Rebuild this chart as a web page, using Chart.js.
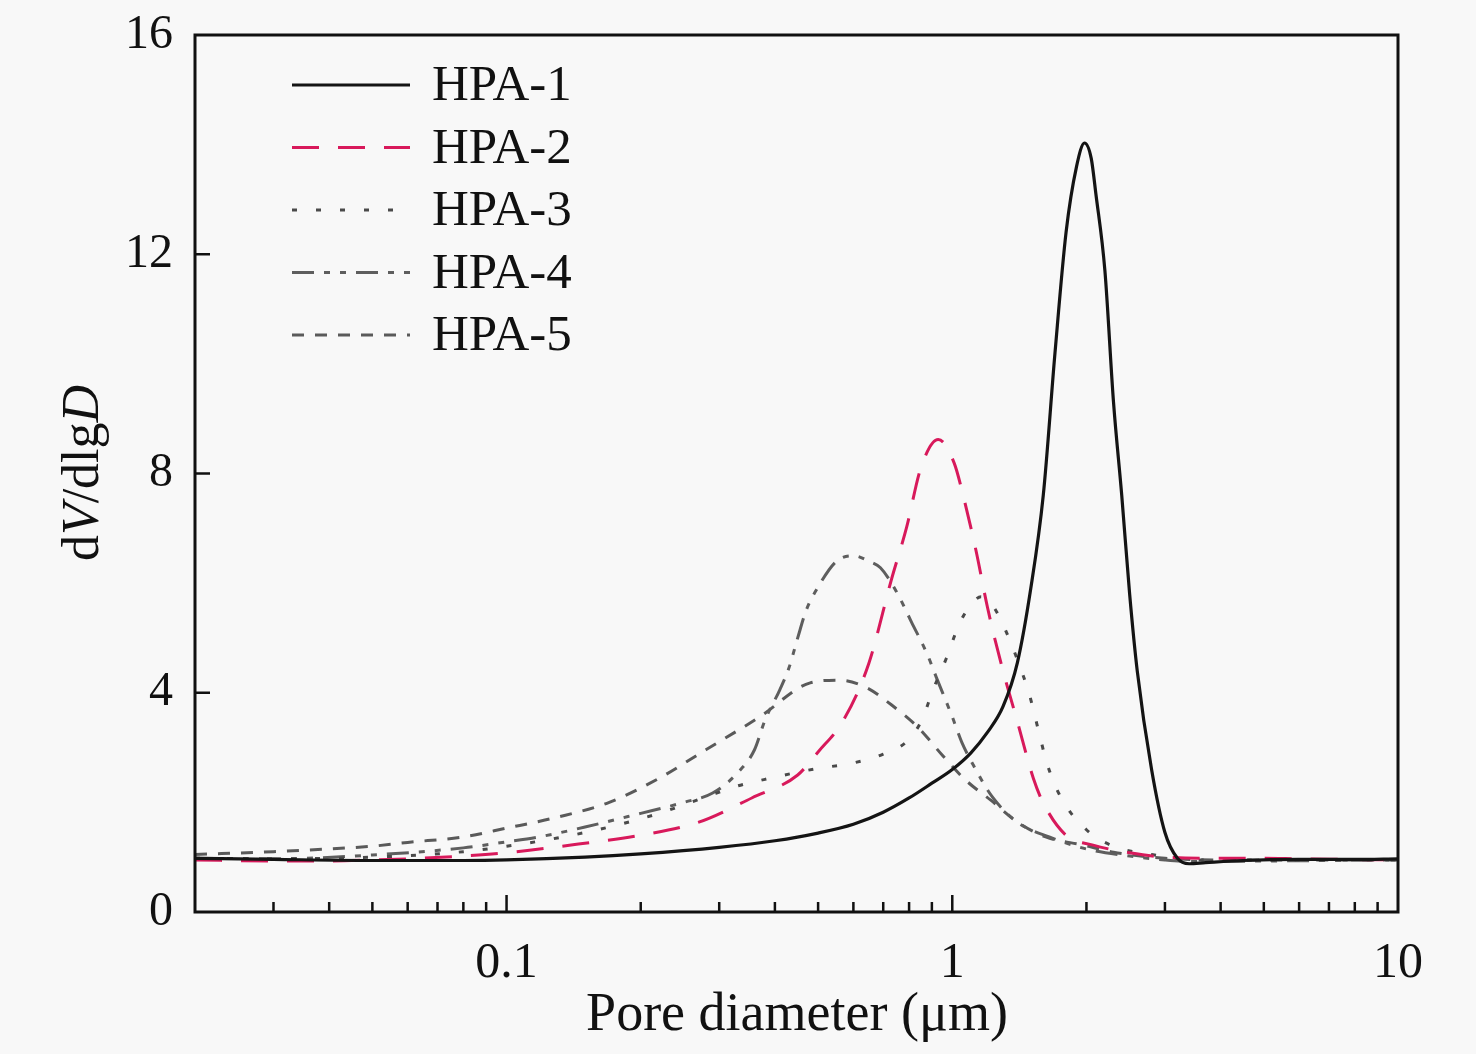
<!DOCTYPE html>
<html>
<head>
<meta charset="utf-8">
<script src="https://cdn.jsdelivr.net/npm/chart.js@4.4.1/dist/chart.umd.min.js"></script>
<style>
  html, body { margin: 0; padding: 0; background: #f8f8f8; }
  #wrap { width: 1476px; height: 1054px; }
</style>
</head>
<body>
<div id="wrap"><canvas id="mycanvas" width="1476" height="1054"></canvas></div>
<script>
// pore diameter (um) and dV/dlgD, one pair of arrays per sample
var hpa1D = [0.02, 0.03, 0.05, 0.08, 0.1, 0.15, 0.2, 0.3, 0.4, 0.5, 0.6, 0.7, 0.8, 0.9, 1.0, 1.1, 1.2, 1.3, 1.4, 1.5, 1.6, 1.7, 1.8, 1.9, 1.98, 2.05, 2.1, 2.2, 2.3, 2.4, 2.5, 2.6, 2.8, 3.0, 3.2, 3.4, 3.7, 4.5, 6, 8, 10];
var hpa1V = [0.98, 0.96, 0.94, 0.94, 0.95, 1.0, 1.06, 1.18, 1.3, 1.44, 1.6, 1.82, 2.08, 2.35, 2.6, 2.9, 3.28, 3.75, 4.55, 5.9, 7.6, 10.2, 12.4, 13.6, 14.03, 13.75, 13.1, 11.7, 9.3, 7.6, 5.8, 4.4, 2.6, 1.45, 0.98, 0.88, 0.9, 0.94, 0.96, 0.96, 0.97];

var hpa2D = [0.02, 0.03, 0.04, 0.05, 0.06, 0.08, 0.1, 0.145, 0.2, 0.27, 0.355, 0.45, 0.5, 0.57, 0.65, 0.73, 0.79, 0.85, 0.93, 1.01, 1.06, 1.13, 1.2, 1.29, 1.4, 1.52, 1.6, 1.8, 2.07, 2.5, 3.0, 4, 5, 6, 8, 10];
var hpa2V = [0.95, 0.93, 0.93, 0.95, 0.97, 1.02, 1.08, 1.24, 1.40, 1.64, 2.08, 2.5, 2.92, 3.5, 4.54, 6.06, 7.02, 8.1, 8.62, 8.19, 7.57, 6.6, 5.55, 4.5, 3.47, 2.44, 1.99, 1.4, 1.22, 1.08, 1.0, 0.98, 0.98, 0.97, 0.96, 0.95];

var hpa3D = [0.02, 0.03, 0.05, 0.08, 0.1, 0.13, 0.17, 0.22, 0.28, 0.33, 0.38, 0.45, 0.5, 0.6, 0.7, 0.8, 0.86, 0.9, 0.97, 1.035, 1.1, 1.16, 1.23, 1.31, 1.4, 1.49, 1.56, 1.63, 1.75, 2.0, 2.3, 2.8, 3.5, 5, 7, 10];
var hpa3V = [0.98, 0.97, 1.0, 1.1, 1.2, 1.35, 1.55, 1.8, 2.1, 2.3, 2.42, 2.55, 2.62, 2.72, 2.88, 3.15, 3.55, 4.0, 4.63, 5.24, 5.6, 5.75, 5.6, 5.18, 4.6, 3.96, 3.32, 2.72, 2.1, 1.5, 1.2, 1.05, 0.95, 0.95, 0.95, 0.95];

var hpa4D = [0.02, 0.03, 0.05, 0.08, 0.1, 0.12, 0.15, 0.2, 0.25, 0.29, 0.33, 0.36, 0.38, 0.41, 0.43, 0.45, 0.47, 0.5, 0.55, 0.6, 0.65, 0.69, 0.75, 0.81, 0.88, 0.92, 1.0, 1.05, 1.12, 1.23, 1.41, 1.65, 2.0, 2.5, 3.0, 3.5, 5, 7, 10];
var hpa4V = [0.98, 0.97, 1.04, 1.17, 1.28, 1.38, 1.55, 1.8, 2.0, 2.17, 2.54, 2.96, 3.5, 4.05, 4.45, 5.0, 5.5, 5.93, 6.4, 6.5, 6.4, 6.28, 5.84, 5.29, 4.69, 4.29, 3.56, 3.1, 2.65, 2.1, 1.62, 1.37, 1.15, 1.02, 0.95, 0.92, 0.93, 0.94, 0.95];

var hpa5D = [0.02, 0.03, 0.04, 0.05, 0.06, 0.08, 0.1, 0.13, 0.17, 0.22, 0.28, 0.37, 0.48, 0.56, 0.64, 0.73, 0.84, 0.95, 1.07, 1.22, 1.4, 1.62, 1.97, 2.3, 3.0, 4, 6, 10];
var hpa5V = [1.05, 1.1, 1.15, 1.2, 1.27, 1.37, 1.53, 1.73, 2.0, 2.44, 2.96, 3.56, 4.18, 4.23, 4.1, 3.78, 3.36, 2.86, 2.41, 2.04, 1.64, 1.37, 1.22, 1.09, 0.98, 0.95, 0.95, 0.95];

var seriesNames = ['HPA-1', 'HPA-2', 'HPA-3', 'HPA-4', 'HPA-5'];

// axis ticks
var xMajor = [0.1, 1, 10];
var xMajorLabels = ['0.1', '1', '10'];
var xMinor = [0.03, 0.04, 0.05, 0.06, 0.07, 0.08, 0.09, 0.2, 0.3, 0.4, 0.5, 0.6, 0.7, 0.8, 0.9, 2, 3, 4, 5, 6, 7, 8, 9];
var yTicks = [0, 4, 8, 12, 16];

var FONT = '"Liberation Serif", "Times New Roman", serif';

function pts(d, v) {
  return d.map(function(x, i) { return { x: x, y: v[i] }; });
}

var styles = [
  { color: '#141414', dash: [], width: 3.2 },
  { color: '#d8195b', dash: [27, 19], width: 3 },
  { color: '#4a4a4a', dash: [5, 19], width: 3 },
  { color: '#5e5e5e', dash: [22, 10, 6, 10, 6, 10], width: 3 },
  { color: '#5a5a5a', dash: [12, 11], width: 3 }
];
var allD = [hpa1D, hpa2D, hpa3D, hpa4D, hpa5D];
var allV = [hpa1V, hpa2V, hpa3V, hpa4V, hpa5V];

var datasets = [];
for (var i = 0; i < seriesNames.length; i++) {
  datasets.push({
    label: seriesNames[i],
    data: pts(allD[i], allV[i]),
    borderColor: styles[i].color,
    borderWidth: styles[i].width,
    borderDash: styles[i].dash,
    borderCapStyle: 'butt',
    pointRadius: 0,
    fill: false,
    cubicInterpolationMode: 'monotone'
  });
}

var framePlugin = {
  id: 'frame',
  afterDraw: function(chart) {
    var ctx = chart.ctx, a = chart.chartArea;
    var xs = chart.scales.x, ys = chart.scales.y;
    ctx.save();
    ctx.setLineDash([]);
    ctx.strokeStyle = '#111';
    ctx.lineWidth = 3;
    ctx.strokeRect(a.left, a.top, a.right - a.left, a.bottom - a.top);

    // inward ticks
    ctx.lineWidth = 2.5;
    ctx.beginPath();
    xMajor.forEach(function(v) {
      var px = xs.getPixelForValue(v);
      if (px < a.right - 3) { ctx.moveTo(px, a.bottom); ctx.lineTo(px, a.bottom - 17); }
    });
    xMinor.forEach(function(v) {
      var px = xs.getPixelForValue(v);
      ctx.moveTo(px, a.bottom); ctx.lineTo(px, a.bottom - 10);
    });
    yTicks.forEach(function(v) {
      if (v <= 0 || v >= 16) return;
      var py = ys.getPixelForValue(v);
      ctx.moveTo(a.left, py); ctx.lineTo(a.left + 15, py);
    });
    ctx.stroke();

    // legend
    ctx.font = '51px ' + FONT;
    ctx.fillStyle = '#111';
    ctx.textBaseline = 'middle';
    ctx.textAlign = 'left';
    chart.data.datasets.forEach(function(ds, k) {
      var y = 85 + k * 62.5;
      ctx.save();
      ctx.strokeStyle = ds.borderColor;
      ctx.lineWidth = ds.borderWidth;
      ctx.setLineDash(ds.borderDash);
      ctx.lineCap = 'butt';
      ctx.beginPath();
      ctx.moveTo(292, y);
      ctx.lineTo(410, y);
      ctx.stroke();
      ctx.restore();
      ctx.fillText(ds.label, 432, y + 2);
    });

    // x title
    ctx.font = '54px ' + FONT;
    ctx.textAlign = 'center';
    ctx.fillText('Pore diameter (\u03bcm)', 797, 1016);

    // y title with italic V and D
    var parts = [['d', ''], ['V', 'italic '], ['/dlg', ''], ['D', 'italic ']];
    var total = 0;
    parts.forEach(function(p) { ctx.font = p[1] + '52px ' + FONT; total += ctx.measureText(p[0]).width; });
    ctx.translate(84, 473);
    ctx.rotate(-Math.PI / 2);
    ctx.textAlign = 'left';
    var cx = -total / 2;
    parts.forEach(function(p) {
      ctx.font = p[1] + '52px ' + FONT;
      ctx.fillText(p[0], cx, 0);
      cx += ctx.measureText(p[0]).width;
    });
    ctx.restore();
  }
};

var ctx = document.getElementById('mycanvas').getContext('2d');
var chart = new Chart(ctx, {
  type: 'line',
  data: { datasets: datasets },
  options: {
    responsive: false,
    animation: false,
    devicePixelRatio: 1,
    layout: { padding: { left: 0, top: 35, right: 78, bottom: 0 } },
    plugins: { legend: { display: false }, tooltip: { enabled: false } },
    scales: {
      x: {
        type: 'logarithmic',
        min: 0.02,
        max: 10,
        grid: { display: false, drawTicks: false },
        border: { display: false },
        afterBuildTicks: function(scale) {
          scale.ticks = xMajor.map(function(v) { return { value: v, major: true }; });
        },
        afterFit: function(scale) {
          scale.height = 142;
          scale.paddingLeft = 0; scale.paddingRight = 0;
        },
        ticks: {
          autoSkip: false,
          maxRotation: 0,
          padding: 22,
          color: '#111',
          font: { family: FONT, size: 50 },
          callback: function(value) {
            var k = xMajor.indexOf(value);
            return k >= 0 ? xMajorLabels[k] : '';
          }
        }
      },
      y: {
        type: 'linear',
        min: 0,
        max: 16,
        grid: { display: false, drawTicks: false },
        border: { display: false },
        afterBuildTicks: function(scale) {
          scale.ticks = yTicks.map(function(v) { return { value: v }; });
        },
        afterFit: function(scale) {
          scale.width = 195;
          scale.paddingTop = 0; scale.paddingBottom = 0;
        },
        ticks: {
          padding: 22,
          color: '#111',
          font: { family: FONT, size: 48 },
          callback: function(value) { return String(value); }
        }
      }
    }
  },
  plugins: [framePlugin]
});
</script>
</body>
</html>
